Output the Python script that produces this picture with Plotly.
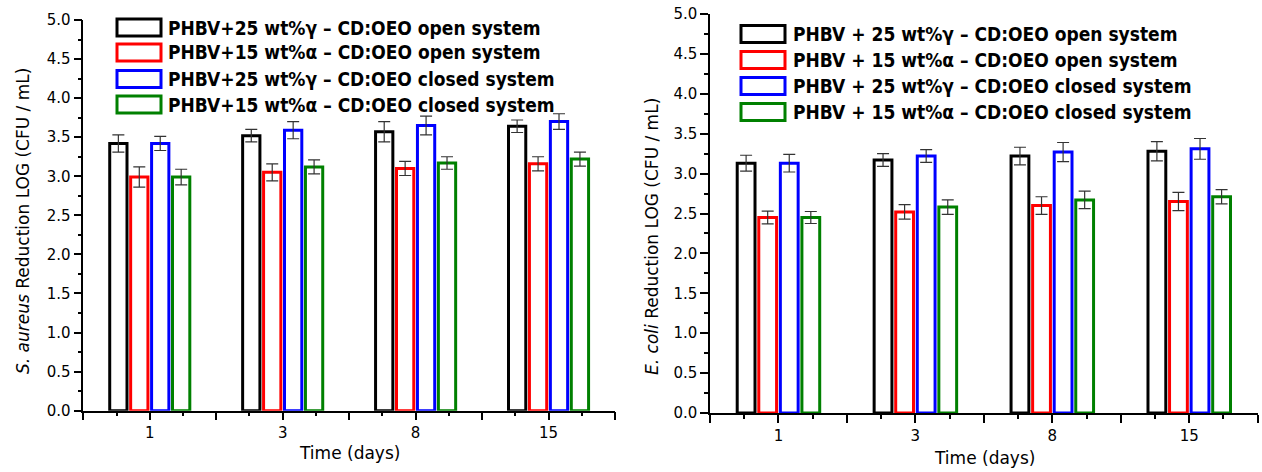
import plotly.graph_objects as go

W, H = 1262, 472

# ---- data -------------------------------------------------------------
days = ["1", "3", "8", "15"]

# S. aureus reduction (log CFU/mL)
sa_open_gamma = [3.42, 3.52, 3.57, 3.64]
sa_open_alpha = [2.99, 3.05, 3.10, 3.16]
sa_closed_gamma = [3.42, 3.59, 3.65, 3.70]
sa_closed_alpha = [2.99, 3.12, 3.17, 3.22]
sa_err_open_gamma = [0.11, 0.08, 0.13, 0.08]
sa_err_open_alpha = [0.13, 0.11, 0.09, 0.09]
sa_err_closed_gamma = [0.09, 0.11, 0.12, 0.10]
sa_err_closed_alpha = [0.10, 0.09, 0.08, 0.09]

# E. coli reduction (log CFU/mL)
ec_open_gamma = [3.13, 3.17, 3.22, 3.28]
ec_open_alpha = [2.45, 2.52, 2.60, 2.65]
ec_closed_gamma = [3.13, 3.22, 3.27, 3.31]
ec_closed_alpha = [2.45, 2.58, 2.67, 2.71]
ec_err_open_gamma = [0.10, 0.08, 0.11, 0.12]
ec_err_open_alpha = [0.08, 0.09, 0.11, 0.115]
ec_err_closed_gamma = [0.11, 0.08, 0.12, 0.13]
ec_err_closed_alpha = [0.075, 0.09, 0.11, 0.09]

left_labels = [
    "PHBV+25 wt%γ – CD:OEO open system",
    "PHBV+15 wt%α – CD:OEO open system",
    "PHBV+25 wt%γ – CD:OEO closed system",
    "PHBV+15 wt%α – CD:OEO closed system",
]
right_labels = [
    "PHBV + 25 wt%γ – CD:OEO open system",
    "PHBV + 15 wt%α – CD:OEO open system",
    "PHBV + 25 wt%γ – CD:OEO closed system",
    "PHBV + 15 wt%α – CD:OEO closed system",
]

colors = ["#000000", "#ff0000", "#0000ff", "#008000"]

# ---- helpers ----------------------------------------------------------
def px_x(px):
    return px / W


def px_y(py):
    return 1 - py / H


FONT = "DejaVu Sans"
LEG_FONT = "DejaVu Sans Condensed, DejaVu Sans"

positions = [2 * i + 1 for i in range(len(days))]
bar_w = 0.26
slot = 0.315

fig = go.Figure()

panels = [
    ("x", "y",
     [sa_open_gamma, sa_open_alpha, sa_closed_gamma, sa_closed_alpha],
     [sa_err_open_gamma, sa_err_open_alpha, sa_err_closed_gamma, sa_err_closed_alpha]),
    ("x2", "y2",
     [ec_open_gamma, ec_open_alpha, ec_closed_gamma, ec_closed_alpha],
     [ec_err_open_gamma, ec_err_open_alpha, ec_err_closed_gamma, ec_err_closed_alpha]),
]

for xa, ya, vals, errs in panels:
    for i, (v, e) in enumerate(zip(vals, errs)):
        center = (i - 1.5) * slot
        fig.add_trace(go.Bar(
            x=positions, y=v, xaxis=xa, yaxis=ya,
            width=bar_w, offset=center - bar_w / 2,
            marker=dict(color="white", line=dict(color=colors[i], width=3)),
            error_y=dict(type="data", array=e, color="#333333",
                         thickness=1.2, width=6),
            showlegend=False,
        ))

tickvals = list(range(9))
ticktext = ["", days[0], "", days[1], "", days[2], "", days[3], ""]
minor_vals = [k + 0.5 for k in range(8)]


def xaxis_cfg(x0, x1, anchor):
    return dict(
        domain=[px_x(x0), px_x(x1)], anchor=anchor, range=[0, 8],
        automargin=False,
        tickmode="array", tickvals=tickvals, ticktext=ticktext,
        ticks="outside", ticklen=8, tickwidth=1.5, tickcolor="black",
        minor=dict(tickmode="array", tickvals=minor_vals, ticks="outside",
                   ticklen=4, tickwidth=1.5, tickcolor="black"),
        showline=True, linewidth=1.5, linecolor="black",
        showgrid=False, zeroline=False,
        tickfont=dict(family=FONT, size=15, color="black"),
    )


def yaxis_cfg(ybot, ytop, anchor):
    return dict(
        domain=[px_y(ybot), px_y(ytop)], anchor=anchor, range=[0, 5],
        automargin=False,
        tickmode="linear", tick0=0, dtick=0.5, tickformat=".1f",
        ticks="outside", ticklen=8, tickwidth=1.5, tickcolor="black",
        minor=dict(dtick=0.25, ticks="outside", ticklen=4,
                   tickwidth=1.5, tickcolor="black"),
        showline=True, linewidth=1.5, linecolor="black",
        showgrid=False, zeroline=False,
        tickfont=dict(family=FONT, size=15, color="black"),
    )


shapes = []
annotations = []


def add_legend(labels, box_x0, box_x1, text_x, rows):
    for lab, col, cy in zip(labels, colors, rows):
        shapes.append(dict(
            type="rect", xref="paper", yref="paper",
            x0=px_x(box_x0), x1=px_x(box_x1),
            y0=px_y(cy + 8.5), y1=px_y(cy - 8.5),
            line=dict(color=col, width=3), fillcolor="rgba(0,0,0,0)",
        ))
        annotations.append(dict(
            xref="paper", yref="paper", x=px_x(text_x), y=px_y(cy),
            xanchor="left", yanchor="middle", showarrow=False,
            text=lab,
            font=dict(family=LEG_FONT, size=19, color="black", weight="bold"),
        ))


add_legend(left_labels, 117, 161, 166, [27.5, 52.5, 79, 104.5])
add_legend(right_labels, 741, 785, 791, [34, 60, 86, 112])


def add_title(text, x, y, angle=0):
    annotations.append(dict(
        xref="paper", yref="paper", x=px_x(x), y=px_y(y),
        xanchor="center", yanchor="middle", showarrow=False,
        text=text, textangle=angle,
        font=dict(family=FONT, size=17, color="black"),
    ))


add_title("Time (days)", 349, 453)
add_title("Time (days)", 984, 458)
add_title("<i>S. aureus</i> Reduction LOG (CFU / mL)", 23, 221, -90)
add_title("<i>E. coli</i> Reduction LOG (CFU / mL)", 652, 237, -90)

fig.update_layout(
    width=W, height=H,
    margin=dict(l=0, r=0, t=0, b=0, autoexpand=False),
    paper_bgcolor="white", plot_bgcolor="white",
    barmode="overlay",
    xaxis=xaxis_cfg(83.3, 615, "y"),
    yaxis=yaxis_cfg(410.7, 20, "x"),
    xaxis2=xaxis_cfg(710, 1257.7, "y2"),
    yaxis2=yaxis_cfg(413, 14, "x2"),
    shapes=shapes,
    annotations=annotations,
    showlegend=False,
)

fig.write_html("out.html")
